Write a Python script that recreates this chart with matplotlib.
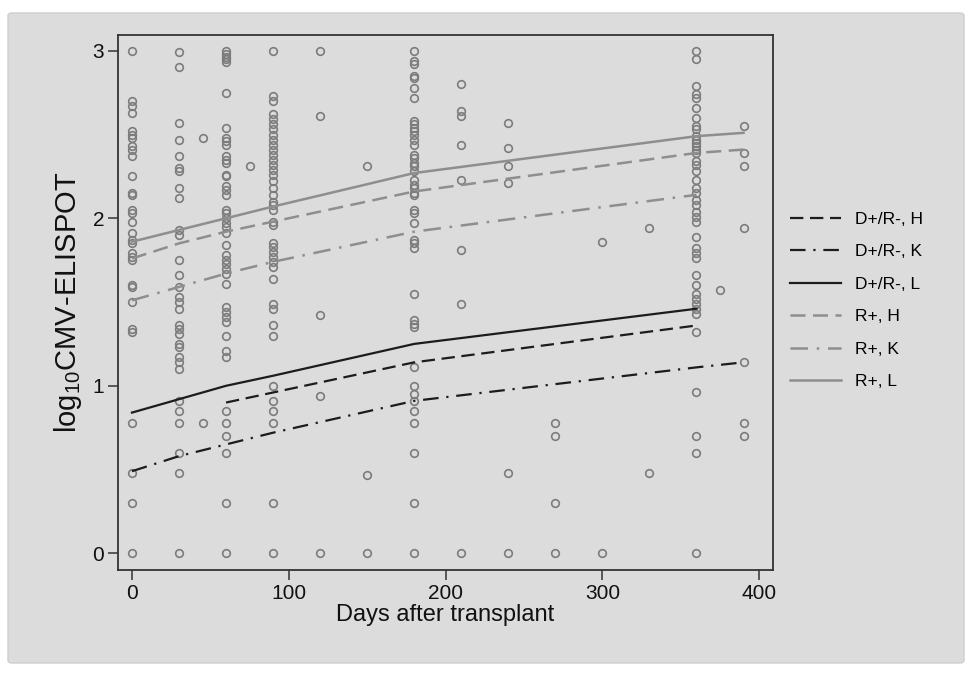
import matplotlib
matplotlib.use('Agg')
import matplotlib.pyplot as plt
from matplotlib.patches import FancyBboxPatch
import numpy as np

plt.rcParams['font.family'] = ['Liberation Sans', 'DejaVu Sans']
plt.rcParams['mathtext.fontset'] = 'custom'
plt.rcParams['mathtext.rm'] = 'Liberation Sans'

# observed CMV-ELISPOT values (log10) by day after transplant
obs_d0 = [3.0, 2.70, 2.67, 2.63, 2.52, 2.50, 2.48, 2.43, 2.41, 2.37, 2.25, 2.15, 2.14,
          2.05, 2.03, 1.98, 1.91, 1.87, 1.85, 1.79, 1.77, 1.75, 1.60, 1.59, 1.50,
          1.34, 1.32, 0.78, 0.48, 0.30, 0.0]
obs_d30 = [2.99, 2.90, 2.57, 2.47, 2.37, 2.30, 2.28, 2.18, 2.12, 1.93, 1.90, 1.75,
           1.66, 1.59, 1.53, 1.50, 1.46, 1.36, 1.34, 1.31, 1.25, 1.23, 1.17, 1.14,
           1.10, 0.91, 0.85, 0.78, 0.60, 0.48, 0.0]
obs_d45 = [2.48, 0.78]
obs_d60 = [3.0, 2.98, 2.96, 2.95, 2.93, 2.75, 2.54, 2.48, 2.46, 2.44, 2.37, 2.35,
           2.33, 2.26, 2.25, 2.19, 2.17, 2.14, 2.05, 2.03, 2.0, 1.97, 1.95, 1.91,
           1.84, 1.78, 1.75, 1.73, 1.70, 1.67, 1.61, 1.47, 1.44, 1.41, 1.38, 1.30,
           1.21, 1.17, 0.85, 0.78, 0.70, 0.60, 0.30, 0.0]
obs_d75 = [2.31]
obs_d90 = [3.0, 2.73, 2.70, 2.62, 2.59, 2.56, 2.53, 2.50, 2.47, 2.44, 2.41, 2.38,
           2.35, 2.32, 2.29, 2.26, 2.22, 2.18, 2.14, 2.10, 2.08, 2.05, 1.98, 1.96,
           1.85, 1.83, 1.80, 1.77, 1.74, 1.71, 1.64, 1.49, 1.46, 1.36, 1.30, 1.0,
           0.91, 0.85, 0.78, 0.30, 0.0]
obs_d120 = [3.0, 2.61, 1.42, 0.94, 0.0]
obs_d150 = [2.31, 0.47, 0.0]
obs_d180 = [3.0, 2.94, 2.92, 2.85, 2.84, 2.78, 2.72, 2.58, 2.56, 2.54, 2.52, 2.50,
            2.47, 2.44, 2.38, 2.36, 2.33, 2.31, 2.28, 2.23, 2.20, 2.18, 2.15, 2.14,
            2.05, 2.03, 1.97, 1.87, 1.85, 1.82, 1.55, 1.39, 1.37, 1.35, 1.11, 1.0,
            0.95, 0.91, 0.85, 0.78, 0.60, 0.30, 0.0]
obs_d210 = [2.80, 2.64, 2.61, 2.44, 2.23, 1.81, 1.49, 0.0]
obs_d240 = [2.57, 2.42, 2.31, 2.21, 0.48, 0.0]
obs_d270 = [0.78, 0.70, 0.30, 0.0]
obs_d300 = [1.86, 0.0]
obs_d330 = [1.94, 0.48]
obs_d360 = [3.0, 2.95, 2.79, 2.74, 2.72, 2.66, 2.60, 2.55, 2.53, 2.49, 2.47, 2.45,
            2.43, 2.41, 2.39, 2.34, 2.32, 2.28, 2.23, 2.18, 2.15, 2.11, 2.08, 2.04,
            2.01, 1.98, 1.89, 1.82, 1.79, 1.76, 1.66, 1.60, 1.55, 1.52, 1.49, 1.46,
            1.43, 1.32, 0.96, 0.70, 0.60, 0.0]
obs_d375 = [1.57]
obs_d390 = [2.55, 2.39, 2.31, 1.94, 1.14, 0.78, 0.70]

obs_days = [0, 30, 45, 60, 75, 90, 120, 150, 180, 210, 240, 270, 300, 330, 360, 375, 390]
obs_cols = [obs_d0, obs_d30, obs_d45, obs_d60, obs_d75, obs_d90, obs_d120, obs_d150,
            obs_d180, obs_d210, obs_d240, obs_d270, obs_d300, obs_d330, obs_d360,
            obs_d375, obs_d390]

# fitted curves
fit_days_full = [0, 30, 60, 90, 180, 360, 390]
fit_days_to360 = [0, 30, 60, 90, 180, 360]
fit_days_60 = [60, 90, 180, 360]
dr_h = [0.90, 0.96, 1.14, 1.36]
dr_k = [0.49, 0.58, 0.65, 0.72, 0.91, 1.11, 1.14]
dr_l = [0.84, 0.92, 1.00, 1.06, 1.25, 1.46]
rp_h = [1.76, 1.85, 1.92, 1.98, 2.16, 2.39, 2.41]
rp_k = [1.51, 1.59, 1.67, 1.74, 1.92, 2.14]
rp_l = [1.86, 1.93, 2.00, 2.07, 2.27, 2.49, 2.51]

bg = '#dcdcdc'
fig = plt.figure(figsize=(9.71, 6.73), dpi=100)
fig.patch.set_facecolor('white')
panel = FancyBboxPatch((8 / 971, 10 / 673), 956 / 971, 650 / 673,
                       boxstyle='round,pad=0,rounding_size=0.004',
                       transform=fig.transFigure, facecolor=bg,
                       edgecolor='#cfcfcf', linewidth=1.0, zorder=-10)
fig.patches.append(panel)

ax = fig.add_axes([118 / 971, 1 - 570 / 673, 655 / 971, 535 / 673])
ax.set_facecolor(bg)

xs = np.concatenate([[d] * len(c) for d, c in zip(obs_days, obs_cols)])
ys = np.concatenate(obs_cols)
ax.plot(xs, ys, linestyle='none', marker='o', markersize=5.5, markerfacecolor='none',
        markeredgecolor='#7c7c7c', markeredgewidth=1.2, zorder=2)

blk = '#1c1c1c'
gry = '#8e8e8e'
dash = (0, (6, 3))
dashdot = (0, (7, 3.5, 1, 3.5))
ax.plot(fit_days_60, dr_h, color=blk, lw=1.6, linestyle=dash, label='D+/R-, H', zorder=3)
ax.plot(fit_days_full, dr_k, color=blk, lw=1.6, linestyle=dashdot, label='D+/R-, K', zorder=3)
ax.plot(fit_days_to360, dr_l, color=blk, lw=1.6, linestyle='-', label='D+/R-, L', zorder=3)
ax.plot(fit_days_full, rp_h, color=gry, lw=1.8, linestyle=dash, label='R+, H', zorder=3)
ax.plot(fit_days_to360, rp_k, color=gry, lw=1.8, linestyle=dashdot, label='R+, K', zorder=3)
ax.plot(fit_days_full, rp_l, color=gry, lw=1.8, linestyle='-', label='R+, L', zorder=3)

ax.set_xlim(-8.9, 408.8)
ax.set_ylim(-0.0996, 3.094)
ax.set_xticks([0, 100, 200, 300, 400])
ax.set_yticks([0, 1, 2, 3])
ax.tick_params(axis='both', direction='out', length=7, width=1.1, color='#333333',
               labelsize=15, labelcolor='#111111', pad=3)
for s in ax.spines.values():
    s.set_color('#333333')
    s.set_linewidth(1.3)

ax.set_xlabel('Days after transplant', fontsize=17, color='#111111', labelpad=1)
ax.set_ylabel(r'log$_{\mathrm{10}}$CMV-ELISPOT', fontsize=21, color='#111111', labelpad=6)

leg = ax.legend(loc='upper left', bbox_to_anchor=(1.026, 0.67), frameon=False,
                fontsize=12.5, handlelength=2.95, handletextpad=0.8, labelspacing=1.0,
                borderpad=0, borderaxespad=0)

fig.savefig('out.png', dpi=100, facecolor=fig.get_facecolor())
